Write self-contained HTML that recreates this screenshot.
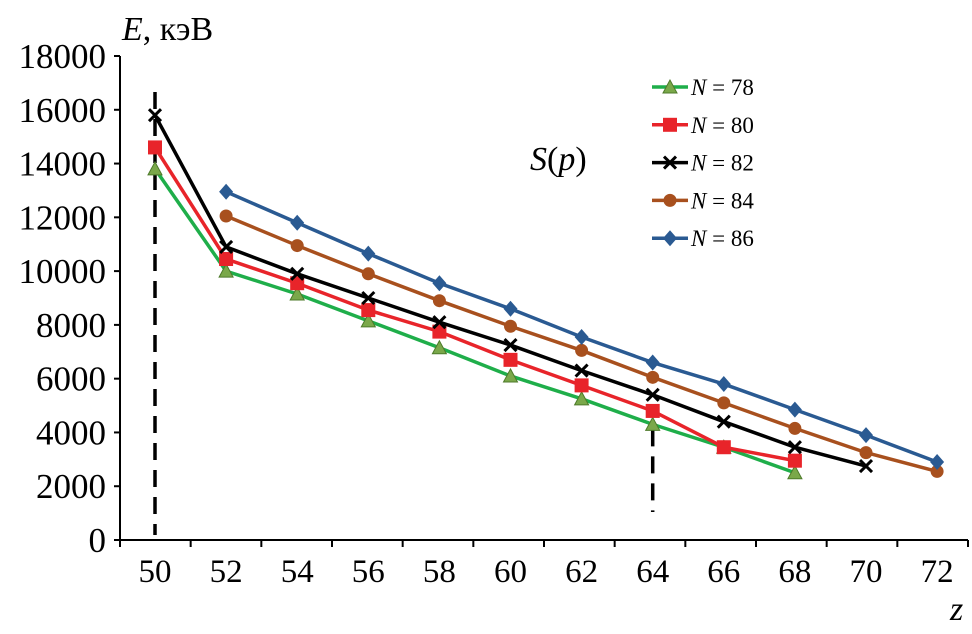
<!DOCTYPE html>
<html><head><meta charset="utf-8"><style>
html,body{margin:0;padding:0;background:#fff;}
svg{display:block;font-family:"Liberation Serif",serif;}
</style></head><body>
<svg id="chart" width="972" height="634" viewBox="0 0 972 634" xmlns="http://www.w3.org/2000/svg">
<g id="axes"></g>
<g id="series"></g>
<g id="legend"></g>
<text x="122" y="40" font-size="34"><tspan font-style="italic">E</tspan>, кэВ</text>
<text x="950" y="620" font-size="34" font-style="italic">z</text>
<text x="530" y="170" font-size="34"><tspan font-style="italic">S</tspan>(<tspan font-style="italic">p</tspan>)</text>
</svg>
<script>
const xCats=[50,52,54,56,58,60,62,64,66,68,70,72];
const yTicks=[0,2000,4000,6000,8000,10000,12000,14000,16000,18000];
const zN78=[50,52,54,56,58,60,62,64,66,68];
const vN78=[13800,10000,9150,8150,7150,6100,5250,4300,3450,2500];
const zN80=[50,52,54,56,58,60,62,64,66,68];
const vN80=[14600,10450,9550,8550,7750,6700,5750,4800,3450,2950];
const zN82=[50,52,54,56,58,60,62,64,66,68,70];
const vN82=[15800,10900,9900,9000,8100,7250,6300,5400,4400,3450,2750];
const zN84=[52,54,56,58,60,62,64,66,68,70,72];
const vN84=[12050,10950,9900,8900,7950,7050,6050,5100,4150,3250,2550];
const zN86=[52,54,56,58,60,62,64,66,68,70,72];
const vN86=[12950,11800,10650,9550,8600,7550,6600,5800,4850,3900,2900];
const seriesNames=["N = 78","N = 80","N = 82","N = 84","N = 86"];

const NS="http://www.w3.org/2000/svg";
const X=z=>155+(z-50)*35.55;
const Y=v=>540-v*(484/18000);
function mk(tag,attrs,parent){const e=document.createElementNS(NS,tag);for(const k in attrs)e.setAttribute(k,attrs[k]);parent.appendChild(e);return e;}
const axes=document.getElementById('axes'),ser=document.getElementById('series'),leg=document.getElementById('legend');

let a=mk('line',{x1:120,y1:Y(18000),x2:120,y2:540,stroke:'#000','stroke-width':2},axes);

a=mk('line',{x1:120,y1:540,x2:968,y2:540,stroke:'#000','stroke-width':2},axes);

yTicks.forEach(v=>{
  const t=mk('line',{x1:114,x2:120,y1:Y(v),y2:Y(v),stroke:'#000','stroke-width':2},axes);
  
  const l=mk('text',{x:106,y:Y(v)+12,'text-anchor':'end','font-size':35},axes);l.textContent=v;
  
});
const bounds=[];for(let i=0;i<=xCats.length;i++)bounds.push(120+i*(848/xCats.length));
bounds.forEach(b=>{const t=mk('line',{x1:b,x2:b,y1:540,y2:547,stroke:'#000','stroke-width':2},axes);
  });
xCats.forEach(z=>{const l=mk('text',{x:X(z),y:582,'text-anchor':'middle','font-size':33},axes);l.textContent=z;
  });

let d=mk('line',{x1:X(50),x2:X(50),y1:92,y2:535,stroke:'#000','stroke-width':3.5,'stroke-dasharray':'17,10'},axes);

d=mk('line',{x1:X(64),x2:X(64),y1:Y(4300)+5,y2:512,stroke:'#000','stroke-width':3.5,'stroke-dasharray':'17,10'},axes);


function marker(type,x,y,g,fill){
  let m;
  if(type==='tri')m=mk('polygon',{points:`${x},${y-7} ${x-7},${y+6} ${x+7},${y+6}`,fill:'#7aa84a',stroke:'#4d7a2a','stroke-width':1},g);
  else if(type==='sq')m=mk('rect',{x:x-7,y:y-7,width:14,height:14,fill:fill},g);
  else if(type==='x'){m=mk('path',{d:`M${x-6},${y-6}L${x+6},${y+6}M${x+6},${y-6}L${x-6},${y+6}`,stroke:'#000','stroke-width':3},g);}
  else if(type==='c')m=mk('circle',{cx:x,cy:y,r:6.5,fill:fill},g);
  else m=mk('polygon',{points:`${x},${y-8} ${x+7},${y} ${x},${y+8} ${x-7},${y}`,fill:fill},g);
  
}
const defs=[[zN78,vN78,'#1fae4a','tri','#7aa84a'],[zN80,vN80,'#e8242a','sq','#e8242a'],[zN82,vN82,'#000','x','#000'],[zN84,vN84,'#a8501e','c','#a8501e'],[zN86,vN86,'#2a5a92','d','#2a5a92']];
defs.forEach((s,i)=>{
  const g=mk('g',{},ser);
  
  const p=mk('polyline',{points:s[0].map((z,j)=>X(z)+','+Y(s[1][j])).join(' '),fill:'none',stroke:s[2],'stroke-width':3.5},g);
  
  s[0].forEach((z,j)=>marker(s[3],X(z),Y(s[1][j]),g,s[4]));
  const ly=87+i*37.8;
  const lg=mk('g',{},leg);
  
  mk('line',{x1:652,x2:688,y1:ly,y2:ly,stroke:s[2],'stroke-width':3.5},lg);
  marker(s[3],670,ly,lg,s[4]);
  const t=mk('text',{x:691,y:ly+8,'font-size':23},lg);
  t.innerHTML='<tspan font-style="italic">N</tspan> = '+(78+2*i);
});
</script>
</body></html>
